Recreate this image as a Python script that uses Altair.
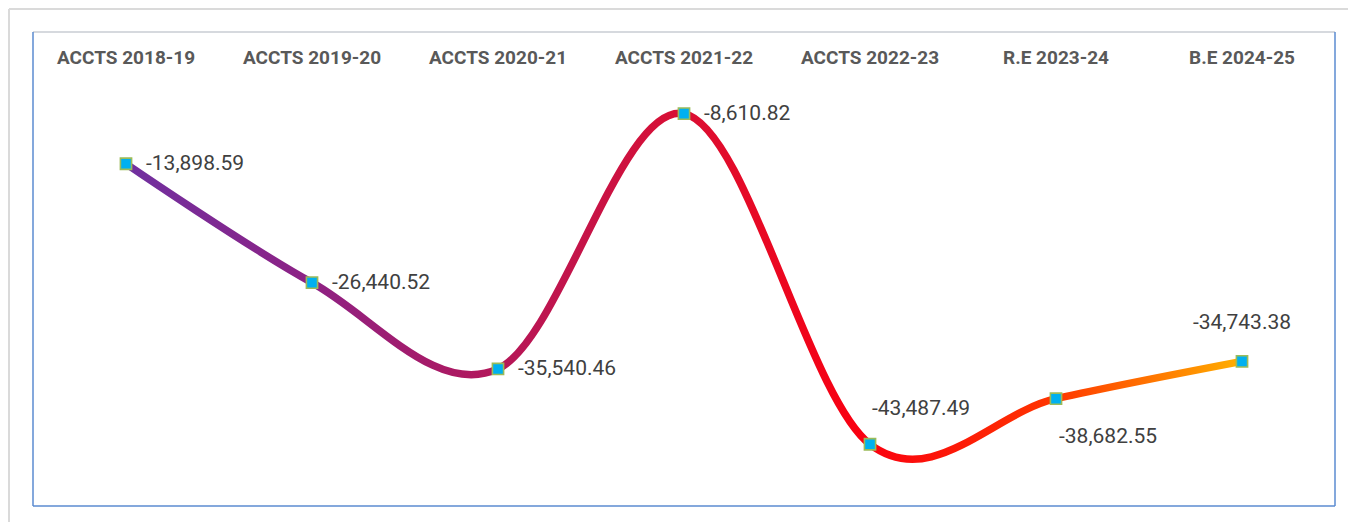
import altair as alt
import pandas as pd

categories = ["ACCTS 2018-19", "ACCTS 2019-20", "ACCTS 2020-21", "ACCTS 2021-22",
              "ACCTS 2022-23", "R.E 2023-24", "B.E 2024-25"]
values = [-13898.59, -26440.52, -35540.46, -8610.82, -43487.49, -38682.55, -34743.38]

df = pd.DataFrame({"cat": categories, "val": values})
df["label"] = [f"{v:,.2f}" for v in values]

W, H = 1302, 474
FONT = "Roboto"

x_enc = alt.X("cat:N", sort=categories, axis=None,
              scale=alt.Scale(type="point", padding=0.5))
y_enc = alt.Y("val:Q", axis=None, scale=alt.Scale(domain=[-50000, 0], nice=False, zero=False))

base = alt.Chart(df)

grad = alt.LinearGradient(
    gradient="linear", x1=0, x2=1, y1=0, y2=0,
    stops=[
        alt.GradientStop(color="#7030A0", offset=0),
        alt.GradientStop(color="#8E2183", offset=0.17),
        alt.GradientStop(color="#B3175A", offset=0.33),
        alt.GradientStop(color="#DA0F33", offset=0.5),
        alt.GradientStop(color="#FA0010", offset=0.66),
        alt.GradientStop(color="#FF3500", offset=0.83),
        alt.GradientStop(color="#FFB000", offset=1),
    ],
)

line = base.mark_line(interpolate="cardinal", strokeWidth=7.5, stroke=grad,
                      strokeCap="butt").encode(x=x_enc, y=y_enc)

pts = base.mark_point(shape="square", size=125, filled=True, fill="#00B0F0",
                      stroke="#9BBB59", strokeWidth=1.6, opacity=1).encode(x=x_enc, y=y_enc)

right_cats = categories[:4]
txt_kw = dict(font=FONT, fontSize=21, color="#404040")

lab_right = base.mark_text(align="left", baseline="middle", dx=20, **txt_kw).encode(
    x=x_enc, y=y_enc, text="label:N").transform_filter(
    alt.FieldOneOfPredicate(field="cat", oneOf=right_cats))
lab_5 = base.mark_text(align="left", baseline="middle", dx=2, dy=-35, **txt_kw).encode(
    x=x_enc, y=y_enc, text="label:N").transform_filter(
    alt.FieldEqualPredicate(field="cat", equal=categories[4]))
lab_6 = base.mark_text(align="left", baseline="middle", dx=3, dy=38, **txt_kw).encode(
    x=x_enc, y=y_enc, text="label:N").transform_filter(
    alt.FieldEqualPredicate(field="cat", equal=categories[5]))
lab_7 = base.mark_text(align="center", baseline="middle", dx=0, dy=-38, **txt_kw).encode(
    x=x_enc, y=y_enc, text="label:N").transform_filter(
    alt.FieldEqualPredicate(field="cat", equal=categories[6]))

cat_labels = base.mark_text(font=FONT, fontSize=19, fontWeight="bold", color="#595959",
                            baseline="middle").encode(x=x_enc, y=alt.value(26), text="cat:N")

frame = alt.Chart(pd.DataFrame({"k": [0]}))
left_edge = frame.mark_rule(color="#5B8BD0", strokeWidth=1.5).encode(
    x=alt.value(0), y=alt.value(0), y2=alt.value(H))
right_edge = frame.mark_rule(color="#5B8BD0", strokeWidth=1.5).encode(
    x=alt.value(W), y=alt.value(0), y2=alt.value(H))
bottom_edge = frame.mark_rule(color="#5B8BD0", strokeWidth=1.5).encode(
    x=alt.value(0), x2=alt.value(W), y=alt.value(H))
top_edge = frame.mark_rule(color="#C9CDD3", strokeWidth=1.5).encode(
    x=alt.value(0), x2=alt.value(W), y=alt.value(0))
outer_left = frame.mark_rule(color="#DADADA", strokeWidth=2).encode(
    x=alt.value(-24), y=alt.value(-23), y2=alt.value(H + 40))
outer_top = frame.mark_rule(color="#DADADA", strokeWidth=2).encode(
    x=alt.value(-24), x2=alt.value(W + 40), y=alt.value(-23))

chart = alt.layer(
    outer_left, outer_top, top_edge, left_edge, right_edge, bottom_edge,
    line, pts, lab_right, lab_5, lab_6, lab_7, cat_labels
).properties(
    width=W, height=H,
    autosize=alt.AutoSizeParams(type="none"),
    padding={"left": 25, "top": 24, "right": 13, "bottom": 16},
    background="white",
).configure_view(stroke=None)

chart.save("out.html", embed_options={"renderer": "svg", "actions": False})
